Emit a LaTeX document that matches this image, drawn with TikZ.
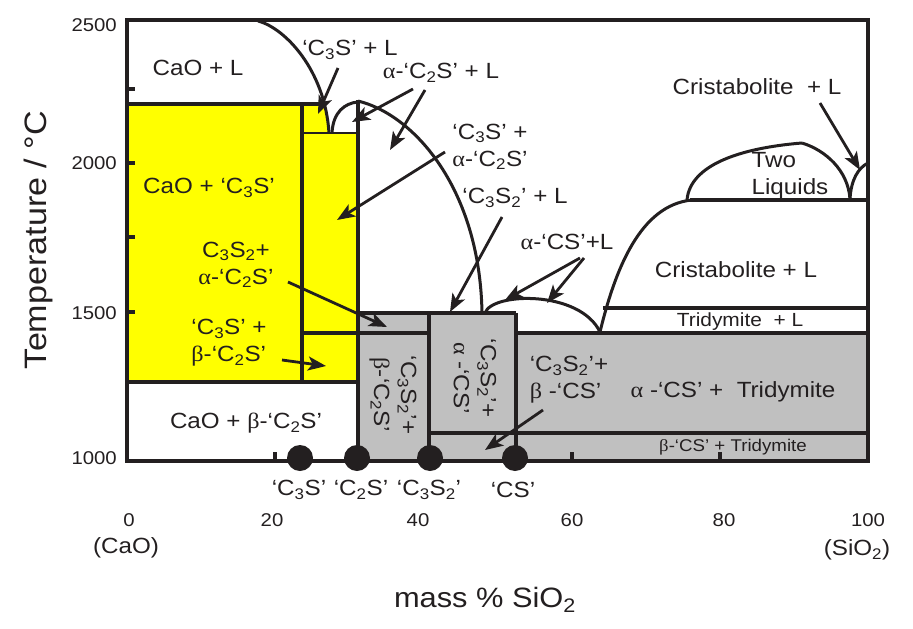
\documentclass[tikz,border=0pt]{standalone}
\usepackage{fontspec}
\setmainfont{Liberation Sans}[FakeStretch=1.1]
\newfontfamily\grk{Liberation Serif}[FakeStretch=1.1]
\usetikzlibrary{arrows.meta}
\definecolor{ink}{HTML}{231F20}
\definecolor{yel}{HTML}{FFFF00}
\definecolor{gry}{HTML}{C0C0C0}
\newcommand\myal{{\grk α}}
\newcommand\mybe{{\grk β}}
\newcommand\sbs[1]{\textsubscript{#1}}
\newcommand\fsz[2]{\fontsize{#1}{#2}\selectfont}
\begin{document}
\begin{tikzpicture}[x=1pt,y=-1pt,
  lab/.style={font=\fsz{22}{27}, align=center, inner sep=0pt, text=ink},
  smalllab/.style={font=\fsz{17}{20}, align=center, inner sep=0pt, text=ink},
  ticklab/.style={font=\fsz{18.5}{22}, inner sep=0pt, text=ink},
  axlab/.style={font=\fsz{28}{32}, inner sep=0pt, text=ink},
  arr/.style={draw=ink, line width=2.8pt, -{Stealth[length=18pt,width=14pt,inset=4.5pt]}},
  bd/.style={draw=ink, line width=3.6pt},
  cv/.style={draw=ink, line width=3pt},
  dot/.style={circle, fill=ink, minimum size=26pt, inner sep=0pt},
  tck/.style={draw=ink, line width=3.5pt}]
\useasboundingbox (0,0) rectangle (913,629);
% fills
\fill[yel] (127,104) rectangle (358,382);
\fill[white] (258,21) .. controls (285,28) and (325,70) .. (329,133) -- (358,133) -- (358,60) -- cycle;
\fill[gry] (358,313) rectangle (516,461);
\fill[gry] (516,333) rectangle (868,461);
% straight boundaries
\draw[bd] (127,104) -- (324,104);
\draw[bd] (302,104) -- (302,382);
\draw[draw=ink, line width=2.2pt] (302,133) -- (358,133);
\draw[bd] (127,382) -- (358,382);
\draw[bd] (302,333) -- (429,333);
\draw[bd] (358,313) -- (516,313);
\draw[bd] (358,100) -- (358,461);
\draw[bd] (429,313) -- (429,461);
\draw[bd] (516,313) -- (516,461);
\draw[bd] (429,433) -- (868,433);
\draw[bd] (516,333) -- (868,333);
\draw[bd] (603,308) -- (868,308);
\draw[bd] (690,200) -- (868,200);
% curves
\draw[cv] (258,21) .. controls (285,28) and (325,70) .. (329,133);
\draw[cv] (332,133) .. controls (333,112) and (345,103) .. (358,102);
\draw[cv] (358,101) .. controls (415,115) and (480,190) .. (482,313);
\draw[cv] (485,313) .. controls (492,292) and (580,290) .. (600,332);
\draw[cv] (600,332) .. controls (615,270) and (640,205) .. (692,200);
\draw[cv] (687,200) .. controls (690,165) and (740,148) .. (802,143);
\draw[cv] (802,143) .. controls (825,150) and (848,170) .. (850,199);
\draw[cv] (850,199) .. controls (851,180) and (858,168) .. (868,163);
% frame
\draw[draw=ink, line width=4.5pt] (127,20) rectangle (868,461);
% ticks
\foreach \yy in {89,163,237,312} \draw[tck] (127,\yy) -- (135,\yy);
\foreach \xx in {275,572,720} \draw[tck] (\xx,461) -- (\xx,452);
% dots
\node[dot] (d1) at (300,458) {};
\node[dot] (d2) at (357,458) {};
\node[dot] (d3) at (430,458) {};
\node[dot] (d4) at (515,458) {};
% region labels
\node[lab] (caoL) at (198,68) {CaO + L};
\node[lab] (c3sL) at (350,50) {‘C\sbs{3}S’ + L};
\node[lab] (ac2sL) at (441,73) {\myal-‘C\sbs{2}S’ + L};
\node[lab] (c3sac2s) at (490,147) {‘C\sbs{3}S’ +\\\myal-‘C\sbs{2}S’};
\node[lab] (c3s2L) at (515,198) {‘C\sbs{3}S\sbs{2}’ + L};
\node[lab] (acsL) at (567,242) {\myal-‘CS’+L};
\node[lab] (cristL1) at (757,87) {Cristabolite\ \ + L};
\node[lab, align=left] (twoliq) at (790,176) {Two\\Liquids};
\node[lab] (cristL2) at (736,270) {Cristabolite + L};
\node[lab, font=\fsz{19}{22}] (tridL) at (740,322) {Tridymite\ \ + L};
\node[lab] (acstrid) at (733,392) {\myal\ -‘CS’ + \ Tridymite};
\node[smalllab] (bcstrid) at (733,447) {\mybe-‘CS’ + Tridymite};
\node[lab, align=left] (c3s2bcs) at (569,380) {‘C\sbs{3}S\sbs{2}’+\\\mybe\ -‘CS’};
\node[lab] (caoc3s) at (209,188) {CaO + ‘C\sbs{3}S’};
\node[lab] (c3s2ac2s) at (236,265) {C\sbs{3}S\sbs{2}+\\\myal-‘C\sbs{2}S’};
\node[lab, align=left] (c3sbc2s) at (229,343) {‘C\sbs{3}S’ +\\\mybe-‘C\sbs{2}S’};
\node[lab] (caobc2s) at (246,423) {CaO + \mybe-‘C\sbs{2}S’};
\node[lab, rotate=-90] (box1) at (393,395) {‘C\sbs{3}S\sbs{2}’+\\\mybe-‘C\sbs{2}S’};
\node[lab, rotate=-90] (box2) at (475,378) {‘C\sbs{3}S\sbs{2}’+\\\myal\ -‘CS’};
% compound labels
\node[lab] (n1) at (299,490) {‘C\sbs{3}S’};
\node[lab] (n2) at (361,490) {‘C\sbs{2}S’};
\node[lab] (n3) at (429,490) {‘C\sbs{3}S\sbs{2}’};
\node[lab] (n4) at (513,490) {‘CS’};
% axis tick labels
\node[ticklab, anchor=east] (t2500) at (117,25) {2500};
\node[ticklab, anchor=east] (t2000) at (117,163) {2000};
\node[ticklab, anchor=east] (t1500) at (117,313) {1500};
\node[ticklab, anchor=east] (t1000) at (117,458) {1000};
\node[ticklab] (x0) at (129,520) {0};
\node[ticklab] (x20) at (272,520) {20};
\node[ticklab] (x40) at (418,520) {40};
\node[ticklab] (x60) at (572,520) {60};
\node[ticklab] (x80) at (724,520) {80};
\node[ticklab] (x100) at (868,520) {100};
\node[lab] (cao) at (126,548) {(CaO)};
\node[lab] (sio2) at (857,550) {(SiO\sbs{2})};
\node[axlab] (xlab) at (485,600) {mass \% SiO\sbs{2}};
\node[axlab, font=\fsz{31}{34}, rotate=90] (ylab) at (38,240) {Temperature / °C};
% arrow end points
\coordinate (a1s) at (338,68);  \coordinate (a1e) at (318,114);
\coordinate (a2s) at (413,89);  \coordinate (a2e) at (352,122);
\coordinate (a3s) at (425,90);  \coordinate (a3e) at (390,150);
\coordinate (a4s) at (445,152); \coordinate (a4e) at (337,220);
\coordinate (a5s) at (502,217); \coordinate (a5e) at (450,312);
\coordinate (a6s) at (580,258); \coordinate (a6e) at (505,300);
\coordinate (a7s) at (584,258); \coordinate (a7e) at (547,303);
\coordinate (a8s) at (820,103); \coordinate (a8e) at (860,170);
\coordinate (a9s) at (288,282); \coordinate (a9e) at (387,327);
\coordinate (a10s) at (282,360); \coordinate (a10e) at (326,366);
\coordinate (a11s) at (543,410); \coordinate (a11e) at (485,450);
\foreach \i in {1,...,11} \draw[arr] (a\i s) -- (a\i e);
\end{tikzpicture}
\end{document}
